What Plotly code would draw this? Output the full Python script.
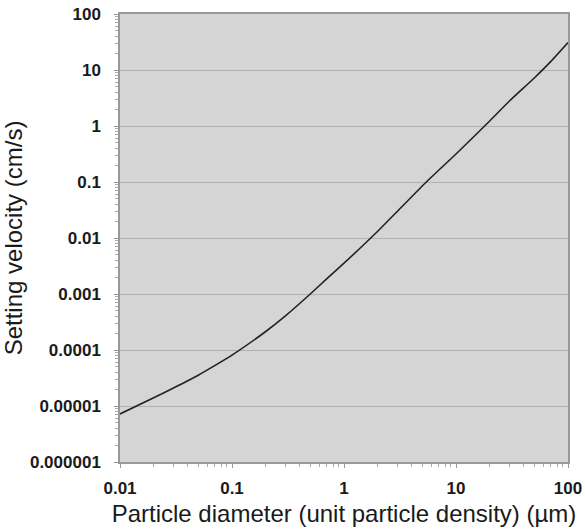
import plotly.graph_objects as go

diameter_um = [0.01, 0.02, 0.03, 0.05, 0.07, 0.1, 0.2, 0.3, 0.5, 0.7,
               1, 2, 3, 5, 7, 10, 20, 30, 50, 70, 100]
velocity_cms = [7.2e-6, 1.4e-5, 2.1e-5, 3.55e-5, 5.25e-5, 8.1e-5, 2.14e-4, 4.07e-4,
                1.0e-3, 1.86e-3, 3.55e-3, 1.32e-2, 0.030, 0.085, 0.162, 0.316,
                1.23, 2.79, 7.2, 14.1, 31]

x_tickvals = [0.01, 0.1, 1, 10, 100]
x_ticktext = ["0.01", "0.1", "1", "10", "100"]
y_tickvals = [1e-6, 1e-5, 1e-4, 1e-3, 1e-2, 1e-1, 1, 10, 100]
y_ticktext = ["0.000001", "0.00001", "0.0001", "0.001", "0.01", "0.1", "1", "10", "100"]


def minor_positions(decades):
    out = []
    for d in decades[:-1]:
        out.extend(d * k for k in range(2, 10))
    return out


fig = go.Figure()
fig.add_trace(go.Scatter(
    x=diameter_um, y=velocity_cms, mode="lines",
    line=dict(color="#222222", width=1.6, shape="spline", smoothing=0.5),
    showlegend=False, hoverinfo="skip",
))

tickfont = dict(family="Liberation Sans, Arial, sans-serif", size=17, color="#1a1a1a", weight="bold")
titlefont = dict(family="Liberation Sans, Arial, sans-serif", size=24, color="#1a1a1a")

fig.update_layout(
    width=585, height=531,
    margin=dict(l=120, r=17, t=14, b=69),
    paper_bgcolor="white",
    plot_bgcolor="#d5d5d5",
    xaxis=dict(
        type="log", range=[-2, 2], automargin=False,
        tickvals=x_tickvals, ticktext=x_ticktext,
        tickfont=tickfont, showgrid=False,
        ticks="outside", ticklen=4, tickcolor="#999999",
        ticklabelstandoff=6,
        minor=dict(tickvals=minor_positions(x_tickvals), ticks="outside", ticklen=3,
                   tickcolor="#aaaaaa", showgrid=False),
        showline=True, linecolor="#999999", linewidth=1.5, mirror=True,
        title=dict(text="Particle diameter (unit particle density) (µm)", font=titlefont, standoff=8),
        zeroline=False,
    ),
    yaxis=dict(
        type="log", range=[-6, 2], automargin=False,
        tickvals=y_tickvals, ticktext=y_ticktext,
        tickfont=tickfont,
        showgrid=True, gridcolor="#b2b2b2", gridwidth=1,
        ticks="outside", ticklen=4, tickcolor="#999999",
        ticklabelstandoff=10,
        minor=dict(tickvals=minor_positions(y_tickvals), ticks="outside", ticklen=3,
                   tickcolor="#aaaaaa", showgrid=False),
        showline=True, linecolor="#999999", linewidth=1.5, mirror=True,
        title=dict(text="Setting velocity (cm/s)", font=titlefont, standoff=4),
        zeroline=False,
    ),
)

fig.write_html("out.html", config={"displayModeBar": False},
               post_script="document.body.style.margin='0';")
